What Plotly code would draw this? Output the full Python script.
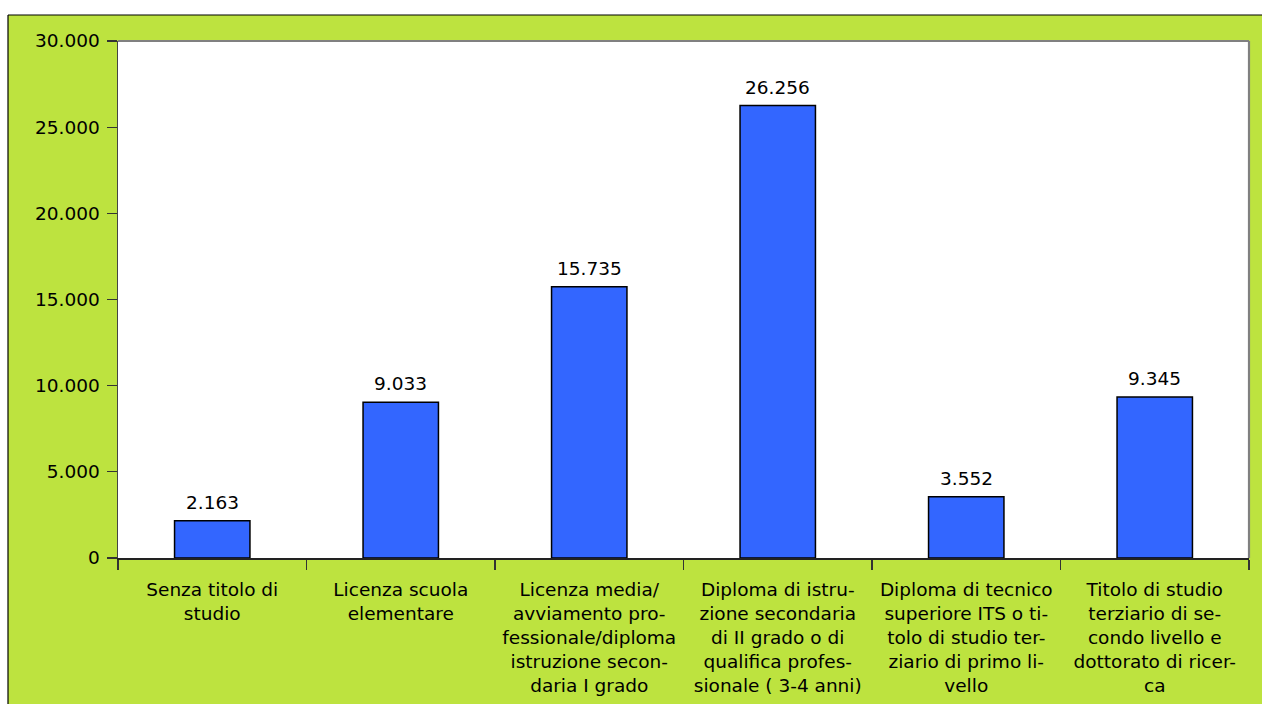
import plotly.graph_objects as go

categories = [
    "Senza titolo di<br>studio",
    "Licenza scuola<br>elementare",
    "Licenza media/<br>avviamento pro-<br>fessionale/diploma<br>istruzione secon-<br>daria I grado",
    "Diploma di istru-<br>zione secondaria<br>di II grado o di<br>qualifica profes-<br>sionale ( 3-4 anni)",
    "Diploma di tecnico<br>superiore ITS o ti-<br>tolo di studio ter-<br>ziario di primo li-<br>vello",
    "Titolo di studio<br>terziario di se-<br>condo livello e<br>dottorato di ricer-<br>ca",
]
values = [2163, 9033, 15735, 26256, 3552, 9345]
y_ticks = [0, 5000, 10000, 15000, 20000, 25000, 30000]

labels = [f"{v:,}".replace(",", ".") for v in values]
tick_text = [f"{v:,}".replace(",", ".") for v in y_ticks]

W, H = 1262, 704
L, R, T, B = 118, 1249, 41, 558
pw, ph = R - L, B - T


def px_x(x):
    return (x - L) / pw


def px_y(y):
    return (B - y) / ph


FONT = "DejaVu Sans, Verdana, sans-serif"
FS = 18.5
GREEN = "#BDE33F"

fig = go.Figure(
    go.Bar(
        x=categories,
        y=values,
        marker=dict(color="#3366FF", line=dict(color="black", width=1.5)),
        hoverinfo="skip",
    )
)

annotations = [
    dict(x=c, y=v, xref="x", yref="y", text=t, showarrow=False,
         yanchor="bottom", yshift=6, font=dict(family=FONT, size=FS, color="black"))
    for c, v, t in zip(categories, values, labels)
]

shapes = [
    # white strips at top and left
    dict(type="rect", xref="paper", yref="paper", x0=px_x(-5), x1=px_x(W + 5),
         y0=px_y(15), y1=px_y(-5), fillcolor="white", line=dict(width=0), layer="below"),
    dict(type="rect", xref="paper", yref="paper", x0=px_x(-5), x1=px_x(8),
         y0=px_y(H + 5), y1=px_y(-5), fillcolor="white", line=dict(width=0), layer="below"),
    # black frame lines
    dict(type="line", xref="paper", yref="paper", x0=px_x(8), x1=px_x(W + 5),
         y0=px_y(15), y1=px_y(15), line=dict(color="black", width=1.2)),
    dict(type="line", xref="paper", yref="paper", x0=px_x(8), x1=px_x(8),
         y0=px_y(15), y1=px_y(H + 5), line=dict(color="black", width=1.2)),
    # gray plot border (top and right)
    dict(type="line", xref="paper", yref="paper", x0=0, x1=1, y0=1, y1=1,
         line=dict(color="#808080", width=2.2)),
    dict(type="line", xref="paper", yref="paper", x0=1, x1=1, y0=0, y1=1,
         line=dict(color="#808080", width=2.2)),
]

fig.update_layout(
    width=W,
    height=H,
    margin=dict(l=L, r=W - R, t=T, b=H - B, pad=0),
    paper_bgcolor=GREEN,
    plot_bgcolor="white",
    bargap=0.6,
    showlegend=False,
    shapes=shapes,
    annotations=annotations,
    font=dict(family=FONT, size=FS, color="black"),
    hovermode=False,
)

fig.update_xaxes(
    type="category",
    tickson="boundaries",
    ticks="outside",
    ticklen=10,
    tickwidth=1.2,
    tickcolor="#333333",
    showline=True,
    linecolor="#222222",
    linewidth=1.5,
    showgrid=False,
    tickangle=0,
    tickfont=dict(family=FONT, size=FS, color="black"),
    ticklabelstandoff=14,
    automargin=False,
)

fig.update_yaxes(
    range=[0, 30000],
    tickvals=y_ticks,
    ticktext=tick_text,
    ticks="outside",
    ticklen=10,
    tickwidth=1.2,
    tickcolor="#333333",
    showline=True,
    linecolor="#444444",
    linewidth=1.5,
    showgrid=False,
    zeroline=False,
    tickfont=dict(family=FONT, size=FS, color="black"),
    ticklabelstandoff=3,
    automargin=False,
)

fig.write_html(
    "out.html",
    config={"displayModeBar": False, "staticPlot": True},
    post_script="document.body.style.margin='0';document.body.style.overflow='hidden';"
                "document.documentElement.style.overflow='hidden';",
)
